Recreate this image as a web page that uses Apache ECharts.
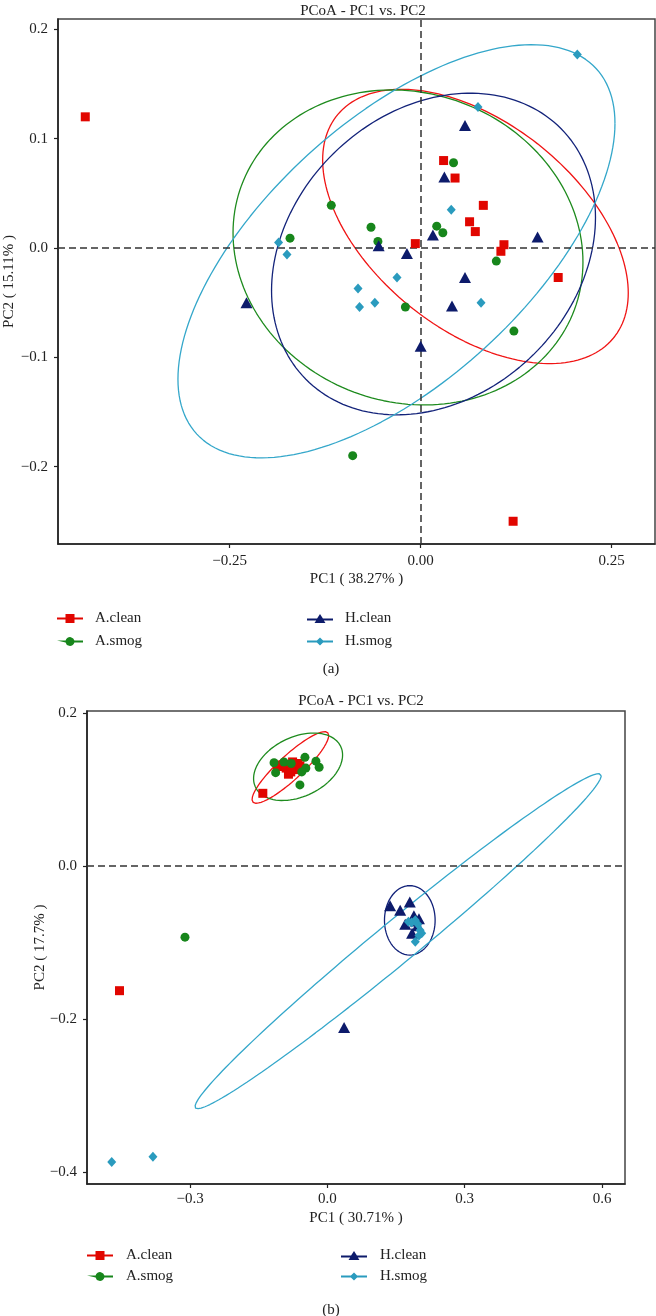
<!DOCTYPE html>
<html>
<head>
<meta charset="utf-8">
<script src="https://cdn.jsdelivr.net/npm/echarts@6/dist/echarts.min.js"></script>
<style>
html,body{margin:0;padding:0;background:#fff;}
#chart{width:656px;height:1316px;}
</style>
</head>
<body>
<div id="chart"></div>
<script>
// ---------- Data ----------
const groups = ['A.clean', 'A.smog', 'H.clean', 'H.smog'];

// Panel (a) points [PC1, PC2]
const aCleanA = [[-0.439,0.120],[0.030,0.080],[0.045,0.064],[0.082,0.039],[0.064,0.024],[0.0715,0.015],[-0.007,0.004],[0.109,0.003],[0.105,-0.003],[0.180,-0.027],[0.121,-0.250]];
const aSmogA  = [[-0.117,0.039],[-0.171,0.009],[0.043,0.078],[-0.065,0.019],[0.021,0.020],[0.029,0.014],[-0.056,0.006],[0.099,-0.012],[-0.020,-0.054],[0.122,-0.076],[-0.089,-0.190]];
const hCleanA = [[0.058,0.112],[0.031,0.065],[0.016,0.012],[0.153,0.010],[-0.055,0.002],[-0.018,-0.005],[0.058,-0.027],[0.041,-0.053],[0.000,-0.090],[-0.228,-0.050]];
const hSmogA  = [[0.205,0.177],[0.075,0.129],[0.040,0.035],[-0.186,0.005],[-0.175,-0.006],[-0.031,-0.027],[-0.082,-0.037],[-0.080,-0.054],[-0.060,-0.050],[0.079,-0.050]];

// Panel (b) points [PC1, PC2]
const aCleanB = [[-0.141,0.095],[-0.109,0.130],[-0.100,0.132],[-0.085,0.120],[-0.076,0.136],[-0.065,0.134],[-0.071,0.126],[-0.060,0.131],[-0.090,0.128],[-0.080,0.123],[-0.454,-0.163]];
const aSmogB  = [[-0.1165,0.135],[-0.113,0.122],[-0.095,0.136],[-0.079,0.134],[-0.049,0.142],[-0.025,0.137],[-0.018,0.129],[-0.047,0.128],[-0.056,0.123],[-0.060,0.106],[-0.311,-0.093]];
const hCleanB = [[0.137,-0.052],[0.159,-0.058],[0.180,-0.047],[0.189,-0.065],[0.200,-0.069],[0.170,-0.076],[0.185,-0.088],[0.197,-0.078],[0.193,-0.072],[0.0365,-0.211]];
const hSmogB  = [[0.177,-0.073],[0.192,-0.071],[0.1975,-0.076],[0.2025,-0.084],[0.206,-0.088],[0.200,-0.091],[0.192,-0.099],[0.184,-0.074],[-0.471,-0.387],[-0.381,-0.380]];

// Confidence ellipses: [centerPC1, centerPC2, halfWidthPC1, PC2 offset at rightmost point, halfHeightPC2]
const ellACleanA = [0.0717, 0.0197, 0.200, -0.0608, 0.1255];
const ellASmogA  = [-0.0166, 0.0005, 0.229, -0.0133, 0.1441];
const ellHCleanA = [0.0168, -0.0055, 0.212, 0.0335, 0.1471];
const ellHSmogA  = [-0.0317, -0.0030, 0.286, 0.117, 0.189];
const ellACleanB = [-0.0808, 0.1288, 0.0837, 0.0418, 0.0468];
const ellASmogB  = [-0.064, 0.1297, 0.0972, 0.0154, 0.0441];
const ellHCleanB = [0.180, -0.071, 0.0553, 0.0, 0.0454];
const ellHSmogB  = [0.1545, -0.0983, 0.4435, 0.2162, 0.219];

// Axis ticks and labels
const xTicksA = [-0.25, 0, 0.25];
const xLabelsA = ['\u22120.25', '0.00', '0.25'];
const yTicksA = [-0.2, -0.1, 0, 0.1, 0.2];
const yLabelsA = ['\u22120.2', '\u22120.1', '0.0', '0.1', '0.2'];
const xTicksB = [-0.3, 0, 0.3, 0.6];
const xLabelsB = ['\u22120.3', '0.0', '0.3', '0.6'];
const yTicksB = [-0.4, -0.2, 0, 0.2];
const yLabelsB = ['\u22120.4', '\u22120.2', '0.0', '0.2'];

const titleText = 'PCoA - PC1 vs. PC2';
const xNameA = 'PC1 ( 38.27% )';
const yNameA = 'PC2 ( 15.11% )';
const xNameB = 'PC1 ( 30.71% )';
const yNameB = 'PC2 ( 17.7% )';

// ---------- Styles ----------
const FONT = "'Liberation Serif', 'DejaVu Serif', serif";
const TXT = '#222';
const markerColors = {'A.clean':'#E10600','A.smog':'#17861B','H.clean':'#0D1B6B','H.smog':'#2A9BBE'};
const ellipseColors = {'A.clean':'#F01414','A.smog':'#1E8B1E','H.clean':'#13237A','H.smog':'#34A7CA'};
const symbols = {'A.clean':'rect','A.smog':'circle','H.clean':'triangle','H.smog':'diamond'};
const symbolSizes = {'A.clean':9,'A.smog':9,'H.clean':[12,11],'H.smog':[9,10]};
const legendIcons = {
  'A.clean': 'path://M0,4.1L8.5,4.1L8.5,0.5L17.5,0.5L17.5,4.1L26,4.1L26,5.9L17.5,5.9L17.5,9.5L8.5,9.5L8.5,5.9L0,5.9Z',
  'A.smog':  'path://M0,4.1L8.6,4.1A4.5,4.5,0,0,1,17.4,4.1L26,4.1L26,5.9L17.4,5.9A4.5,4.5,0,0,1,8.6,5.9Z',
  'H.clean': 'path://M0,5.1L10.07,5.1L13,0.5L15.93,5.1L26,5.1L26,6.9L16.79,6.9L18.5,9.5L7.5,9.5L9.21,6.9L0,6.9Z',
  'H.smog':  'path://M0,4.1L9.9,4.1L13,1L16.1,4.1L26,4.1L26,5.9L16.1,5.9L13,9L9.9,5.9L0,5.9Z'
};

function ellipsePath(p) {
  const [cx, cy, w, k, h] = p;
  const s = Math.sqrt(Math.max(h*h - k*k, 0));
  const pts = [];
  const n = 180;
  for (let i = 0; i <= n; i++) {
    const t = 2*Math.PI*i/n;
    pts.push([cx + w*Math.cos(t), cy + k*Math.cos(t) + s*Math.sin(t)]);
  }
  return pts;
}

function labelFor(ticks, labels) {
  return function (v) {
    let best = 0, bd = Infinity;
    ticks.forEach((t, i) => { const d = Math.abs(t - v); if (d < bd) { bd = d; best = i; } });
    return labels[best];
  };
}

function makeAxis(gridIndex, min, max, ticks, labels, name, nameGap, labelMargin) {
  return {
    type: 'value', gridIndex, min, max,
    name, nameLocation: 'middle', nameGap, nameMoveOverlap: false,
    nameTextStyle: {fontFamily: FONT, fontSize: 15, color: TXT},
    axisLine: {show: true, onZero: false, lineStyle: {color: '#222', width: 1.6}},
    axisTick: {show: true, inside: false, length: 4, customValues: ticks, lineStyle: {color: '#222', width: 1.2}},
    axisLabel: {show: true, customValues: ticks, formatter: labelFor(ticks, labels), margin: labelMargin,
      fontFamily: FONT, fontSize: 15, color: TXT},
    splitLine: {show: false}
  };
}

const dashLine = {type: [7, 4], color: '#333', width: 1.5};

function scatterSeries(name, data, xi, marks) {
  const s = {
    name, type: 'scatter', xAxisIndex: xi, yAxisIndex: xi, data,
    symbol: symbols[name], symbolSize: symbolSizes[name],
    itemStyle: {color: markerColors[name], opacity: 1},
    z: 5
  };
  if (marks) {
    s.markLine = {silent: true, symbol: 'none', label: {show: false}, animation: false,
      lineStyle: dashLine, data: marks};
  }
  return s;
}
function ellipseSeries(name, params, xi) {
  return {
    name, type: 'line', xAxisIndex: xi, yAxisIndex: xi, data: ellipsePath(params),
    showSymbol: false, symbol: 'none', smooth: false, silent: true,
    lineStyle: {color: ellipseColors[name], width: 1.3},
    itemStyle: {color: ellipseColors[name]},
    z: 3
  };
}

function legendBlock(names, left, top, padLeft, gap) {
  return {
    orient: 'vertical', left, top, padding: 0, itemWidth: 26, itemHeight: 10, itemGap: gap,
    selectedMode: false,
    data: names.map(n => ({name: n, icon: legendIcons[n], itemStyle: {color: markerColors[n]}})),
    textStyle: {fontFamily: FONT, fontSize: 15, color: TXT, padding: [0, 0, 0, padLeft]}
  };
}

const option = {
  animation: false,
  backgroundColor: '#fff',
  title: [
    {text: titleText, left: 358, top: -1, textAlign: 'center', textStyle: {fontFamily: FONT, fontSize: 15, fontWeight: 'normal', color: TXT}},
    {text: '(a)', left: 326, top: 657, textAlign: 'center', textStyle: {fontFamily: FONT, fontSize: 15, fontWeight: 'normal', color: TXT}},
    {text: titleText, left: 356, top: 689, textAlign: 'center', textStyle: {fontFamily: FONT, fontSize: 15, fontWeight: 'normal', color: TXT}},
    {text: '(b)', left: 326, top: 1298, textAlign: 'center', textStyle: {fontFamily: FONT, fontSize: 15, fontWeight: 'normal', color: TXT}}
  ],
  grid: [
    {left: 58, top: 19, width: 597, height: 525, show: true, borderColor: '#444', borderWidth: 1.5,
      backgroundColor: 'transparent', containLabel: false, outerBoundsMode: 'none'},
    {left: 87, top: 711, width: 538, height: 473, show: true, borderColor: '#444', borderWidth: 1.5,
      backgroundColor: 'transparent', containLabel: false, outerBoundsMode: 'none'}
  ],
  xAxis: [
    makeAxis(0, -0.4747, 0.3067, xTicksA, xLabelsA, xNameA, 28, 10),
    makeAxis(1, -0.525, 0.650, xTicksB, xLabelsB, xNameB, 27, 8)
  ],
  yAxis: [
    makeAxis(0, -0.2708, 0.2095, yTicksA, yLabelsA, yNameA, 41, 10),
    makeAxis(1, -0.4157, 0.2026, yTicksB, yLabelsB, yNameB, 39, 10)
  ],
  legend: [
    legendBlock(['A.clean', 'A.smog'], 57, 611, 7, 8),
    legendBlock(['H.clean', 'H.smog'], 307, 611, 7, 8),
    legendBlock(['A.clean', 'A.smog'], 87, 1248, 8, 6),
    legendBlock(['H.clean', 'H.smog'], 341, 1248, 8, 6)
  ],
  series: [
    ellipseSeries('A.clean', ellACleanA, 0),
    ellipseSeries('A.smog', ellASmogA, 0),
    ellipseSeries('H.clean', ellHCleanA, 0),
    ellipseSeries('H.smog', ellHSmogA, 0),
    scatterSeries('A.clean', aCleanA, 0, [{xAxis: 0}, {yAxis: 0}]),
    scatterSeries('A.smog', aSmogA, 0),
    scatterSeries('H.clean', hCleanA, 0),
    scatterSeries('H.smog', hSmogA, 0),
    ellipseSeries('A.clean', ellACleanB, 1),
    ellipseSeries('A.smog', ellASmogB, 1),
    ellipseSeries('H.clean', ellHCleanB, 1),
    ellipseSeries('H.smog', ellHSmogB, 1),
    scatterSeries('A.clean', aCleanB, 1, [{yAxis: 0}]),
    scatterSeries('A.smog', aSmogB, 1),
    scatterSeries('H.clean', hCleanB, 1),
    scatterSeries('H.smog', hSmogB, 1)
  ]
};

const chart = echarts.init(document.getElementById('chart'), null, {renderer: 'canvas'});
chart.setOption(option);
</script>
</body>
</html>
